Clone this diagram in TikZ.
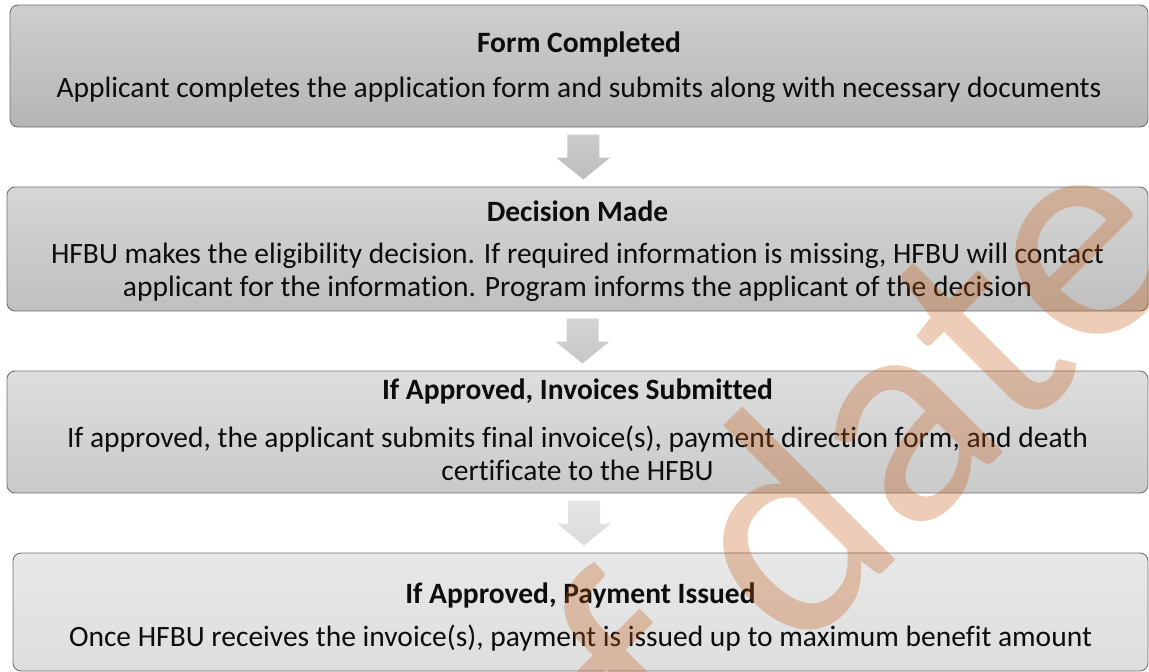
\documentclass[tikz,border=0pt]{standalone}
\usepackage{fontspec}
\setmainfont{Carlito}[Ligatures={NoCommon,NoContextual,NoRare}]
\usetikzlibrary{calc}
\definecolor{boxline}{RGB}{112,112,112}
\definecolor{stampred}{RGB}{197,90,17}
\newcommand{\stagefont}{\fontsize{29.5}{33}\selectfont}
\tikzset{
  stagebox/.style={draw=boxline, line width=0.9pt, rounded corners=8pt, inner sep=0pt},
  headline/.style={anchor=base, inner sep=0pt, font=\stagefont\bfseries},
  bodyline/.style={anchor=base, inner sep=0pt, font=\stagefont}
}
% block arrow between two stages
\newcommand{\stagearrow}[4]{%
  \coordinate (#1-mid) at ($(#1.south)!.5!(#2.north)+(5,0)$);
  \shade[top color=#3, bottom color=#4]
    ($(#1-mid)+(-16,-22.5)$) -- ++(32,0) -- ++(0,23) -- ++(11,0)
    -- ($(#1-mid)+(0,22.5)$) -- ($(#1-mid)+(-27,0.5)$) -- ++(11,0) -- cycle;
}

\begin{document}
\begin{tikzpicture}[x=1pt, y=-1pt, color=black!95]
  \useasboundingbox (0,0) rectangle (1149,672);
  \clip (0,0) rectangle (1149,672);

  \node[stagebox, minimum width=1138pt, minimum height=122pt, top color=black!19, bottom color=black!29] (form) at (579,66) {};
  \node[stagebox, minimum width=1141pt, minimum height=124pt, top color=black!16, bottom color=black!25] (decision) at (577.5,249) {};
  \node[stagebox, minimum width=1141pt, minimum height=122pt, top color=black!13, bottom color=black!21] (invoices) at (577.5,432) {};
  \node[stagebox, minimum width=1135pt, minimum height=118pt, top color=black!9, bottom color=black!13] (payment) at (580.5,612) {};

  \stagearrow{form}{decision}{black!20}{black!26}
  \stagearrow{decision}{invoices}{black!17}{black!22}
  \stagearrow{invoices}{payment}{black!10}{black!14}

  \node[headline] (formtitle) at (579,52) {Form Completed};
  \node[bodyline] (formtext) at (579,97) {Applicant completes the application form and submits along with necessary documents};

  \node[headline] (decisiontitle) at (577.5,221) {Decision Made};
  \node[bodyline] (decisiontext) at (577.5,263) {HFBU makes the eligibility decision. If required information is missing, HFBU will contact};
  \node[bodyline] (decisionmore) at (577.5,296) {applicant for the information. Program informs the applicant of the decision};

  \node[headline] (invoicestitle) at (577.5,399) {If Approved, Invoices Submitted};
  \node[bodyline] (invoicestext) at (577.5,447) {If approved, the applicant submits final invoice(s), payment direction form, and death};
  \node[bodyline] (invoicesmore) at (577.5,480) {certificate to the HFBU};

  \node[headline] (paymenttitle) at (580.5,603) {If Approved, Payment Issued};
  \node[bodyline] (paymenttext) at (580.5,646) {Once HFBU receives the invoice(s), payment is issued up to maximum benefit amount};

  % watermark on top
  \node[text=stampred, text opacity=0.3, rotate=45, anchor=base, inner sep=0pt, font=\fontsize{312}{312}\selectfont] (stamp) at (879,577) {of date};
\end{tikzpicture}
\end{document}
